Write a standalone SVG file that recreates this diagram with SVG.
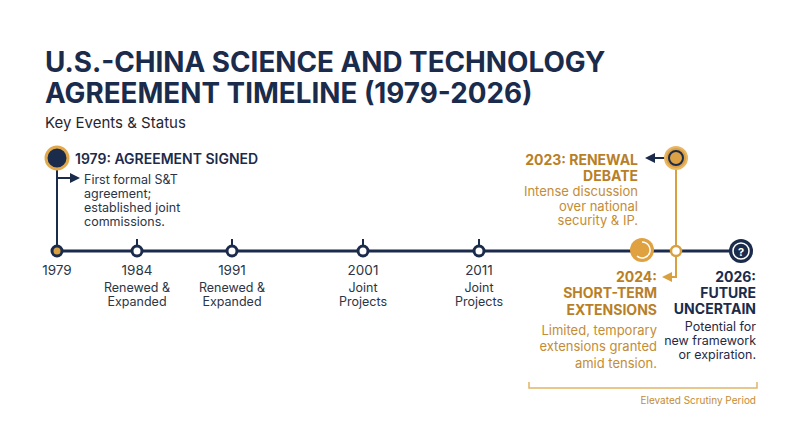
<svg xmlns="http://www.w3.org/2000/svg" width="800" height="447" viewBox="0 0 800 447">
<style>
  text { font-family: Inter, "Noto Sans", "Liberation Sans", sans-serif; }
  .title { font-size: 27.8px; font-weight: 700; fill: #1b2b4b; }
  .sub { font-size: 15px; fill: #1f2733; }
  .head { font-size: 14px; font-weight: 600; fill: #1b2b4b; }
  .desc { font-size: 12.5px; fill: #2c3546; }
  .yr { font-size: 13.5px; fill: #2c3546; text-anchor: middle; }
  .lbl { font-size: 12.5px; fill: #2c3546; text-anchor: middle; }
  .ohead { font-size: 14px; font-weight: 700; fill: #b87f28; text-anchor: end; }
  .odesc { font-size: 13px; fill: #c48c36; text-anchor: end; }
  .nhead { font-size: 14px; font-weight: 700; fill: #1b2b4b; text-anchor: end; }
  .ndesc { font-size: 12.5px; fill: #1f2b45; text-anchor: end; }
  .tick { stroke: #1b2b4b; stroke-width: 2; }
  .small { fill: #ffffff; stroke: #1b2b4b; stroke-width: 3; }
</style>
<defs>
  <marker id="arrNavy" markerWidth="10" markerHeight="10" refX="8" refY="5" orient="auto" markerUnits="userSpaceOnUse">
    <path d="M0,0 L10,5 L0,10 Z" fill="#1b2b4b"/>
  </marker>
  <marker id="arrOrange" markerWidth="10" markerHeight="10" refX="8" refY="5" orient="auto" markerUnits="userSpaceOnUse">
    <path d="M0,0 L10,5 L0,10 Z" fill="#d9a040"/>
  </marker>
</defs>
<rect width="800" height="447" fill="#ffffff"/>
<g id="title">
  <text class="title" x="45" y="72">U.S.-CHINA SCIENCE AND TECHNOLOGY</text>
  <text class="title" x="45" y="103">AGREEMENT TIMELINE (1979-2026)</text>
  <text class="sub" x="45" y="128">Key Events &amp; Status</text>
</g>
<g id="connectors">
  <line x1="57" y1="251" x2="741" y2="251" stroke="#1b2b4b" stroke-width="3"/>
  <line x1="57" y1="158" x2="57" y2="251" stroke="#1b2b4b" stroke-width="2"/>
  <line x1="57" y1="178" x2="78" y2="178" stroke="#1b2b4b" stroke-width="2" marker-end="url(#arrNavy)"/>
  <line class="tick" x1="137" y1="239" x2="137" y2="251"/>
  <line class="tick" x1="232" y1="239" x2="232" y2="251"/>
  <line class="tick" x1="363" y1="239" x2="363" y2="251"/>
  <line class="tick" x1="479" y1="239" x2="479" y2="251"/>
  <polyline points="676,158 676,277 664,277" fill="none" stroke="#d9a040" stroke-width="2" marker-end="url(#arrOrange)"/>
  <line x1="665" y1="158" x2="647" y2="158" stroke="#1b2b4b" stroke-width="2" marker-end="url(#arrNavy)"/>
  <polyline points="529,382 529,388 757,388 757,382" fill="none" stroke="#e2b466" stroke-width="1.5"/>
</g>
<g id="node-1979">
  <circle cx="57" cy="158" r="11" fill="#1b2b4b" stroke="#e2a94c" stroke-width="3"/>
  <circle cx="57" cy="251" r="5" fill="#d9a040" stroke="#1b2b4b" stroke-width="3"/>
  <text class="head" x="75" y="164">1979: AGREEMENT SIGNED</text>
  <text class="desc" x="84" y="184">First formal S&amp;T</text>
  <text class="desc" x="84" y="198">agreement;</text>
  <text class="desc" x="84" y="212">established joint</text>
  <text class="desc" x="84" y="226">commissions.</text>
  <text class="yr" x="57" y="275">1979</text>
</g>
<g id="node-1984">
  <circle class="small" cx="137" cy="251" r="5"/>
  <text class="yr" x="137" y="275">1984</text>
  <text class="lbl" x="137" y="292">Renewed &amp;</text>
  <text class="lbl" x="137" y="306">Expanded</text>
</g>
<g id="node-1991">
  <circle class="small" cx="232" cy="251" r="5"/>
  <text class="yr" x="232" y="275">1991</text>
  <text class="lbl" x="232" y="292">Renewed &amp;</text>
  <text class="lbl" x="232" y="306">Expanded</text>
</g>
<g id="node-2001">
  <circle class="small" cx="363" cy="251" r="5"/>
  <text class="yr" x="363" y="275">2001</text>
  <text class="lbl" x="363" y="292">Joint</text>
  <text class="lbl" x="363" y="306">Projects</text>
</g>
<g id="node-2011">
  <circle class="small" cx="479" cy="251" r="5"/>
  <text class="yr" x="479" y="275">2011</text>
  <text class="lbl" x="479" y="292">Joint</text>
  <text class="lbl" x="479" y="306">Projects</text>
</g>
<g id="node-2023">
  <circle cx="676" cy="158" r="11" fill="#dca045" stroke="#e8b764" stroke-width="2"/>
  <circle cx="676" cy="158" r="7" fill="none" stroke="#1b2b4b" stroke-width="2"/>
  <circle cx="676" cy="251" r="5" fill="#ffffff" stroke="#d9a040" stroke-width="2.5"/>
  <text class="ohead" x="638" y="165">2023: RENEWAL</text>
  <text class="ohead" x="638" y="181">DEBATE</text>
  <text class="odesc" font-size="11.8" x="638" y="196">Intense discussion</text>
  <text class="odesc" font-size="11.8" x="638" y="210.5">over national</text>
  <text class="odesc" font-size="11.8" x="638" y="225">security &amp; IP.</text>
</g>
<g id="node-2024">
  <circle cx="642" cy="250" r="12" fill="#e0a240"/>
  <path d="M642,242 A8,8 0 1 1 637,256.2" fill="none" stroke="#ffffff" stroke-width="1.5"/>
  <text class="ohead" x="657" y="282">2024:</text>
  <text class="ohead" x="657" y="298">SHORT-TERM</text>
  <text class="ohead" x="657" y="315">EXTENSIONS</text>
  <text class="odesc" x="657" y="335">Limited, temporary</text>
  <text class="odesc" x="657" y="351">extensions granted</text>
  <text class="odesc" x="657" y="368">amid tension.</text>
</g>
<g id="node-2026">
  <circle cx="741" cy="251" r="12" fill="#1b2b4b"/>
  <circle cx="741" cy="251" r="8" fill="none" stroke="#ffffff" stroke-width="1.5"/>
  <text x="741" y="255.5" font-size="11" font-weight="700" fill="#ffffff" text-anchor="middle">?</text>
  <text class="nhead" x="756" y="282">2026:</text>
  <text class="nhead" x="756" y="298">FUTURE</text>
  <text class="nhead" x="756" y="314">UNCERTAIN</text>
  <text class="ndesc" x="756" y="331">Potential for</text>
  <text class="ndesc" x="756" y="345">new framework</text>
  <text class="ndesc" x="756" y="359">or expiration.</text>
</g>
<g id="period">
  <text x="756" y="404" font-size="10" fill="#c48c36" text-anchor="end">Elevated Scrutiny Period</text>
</g>
</svg>
